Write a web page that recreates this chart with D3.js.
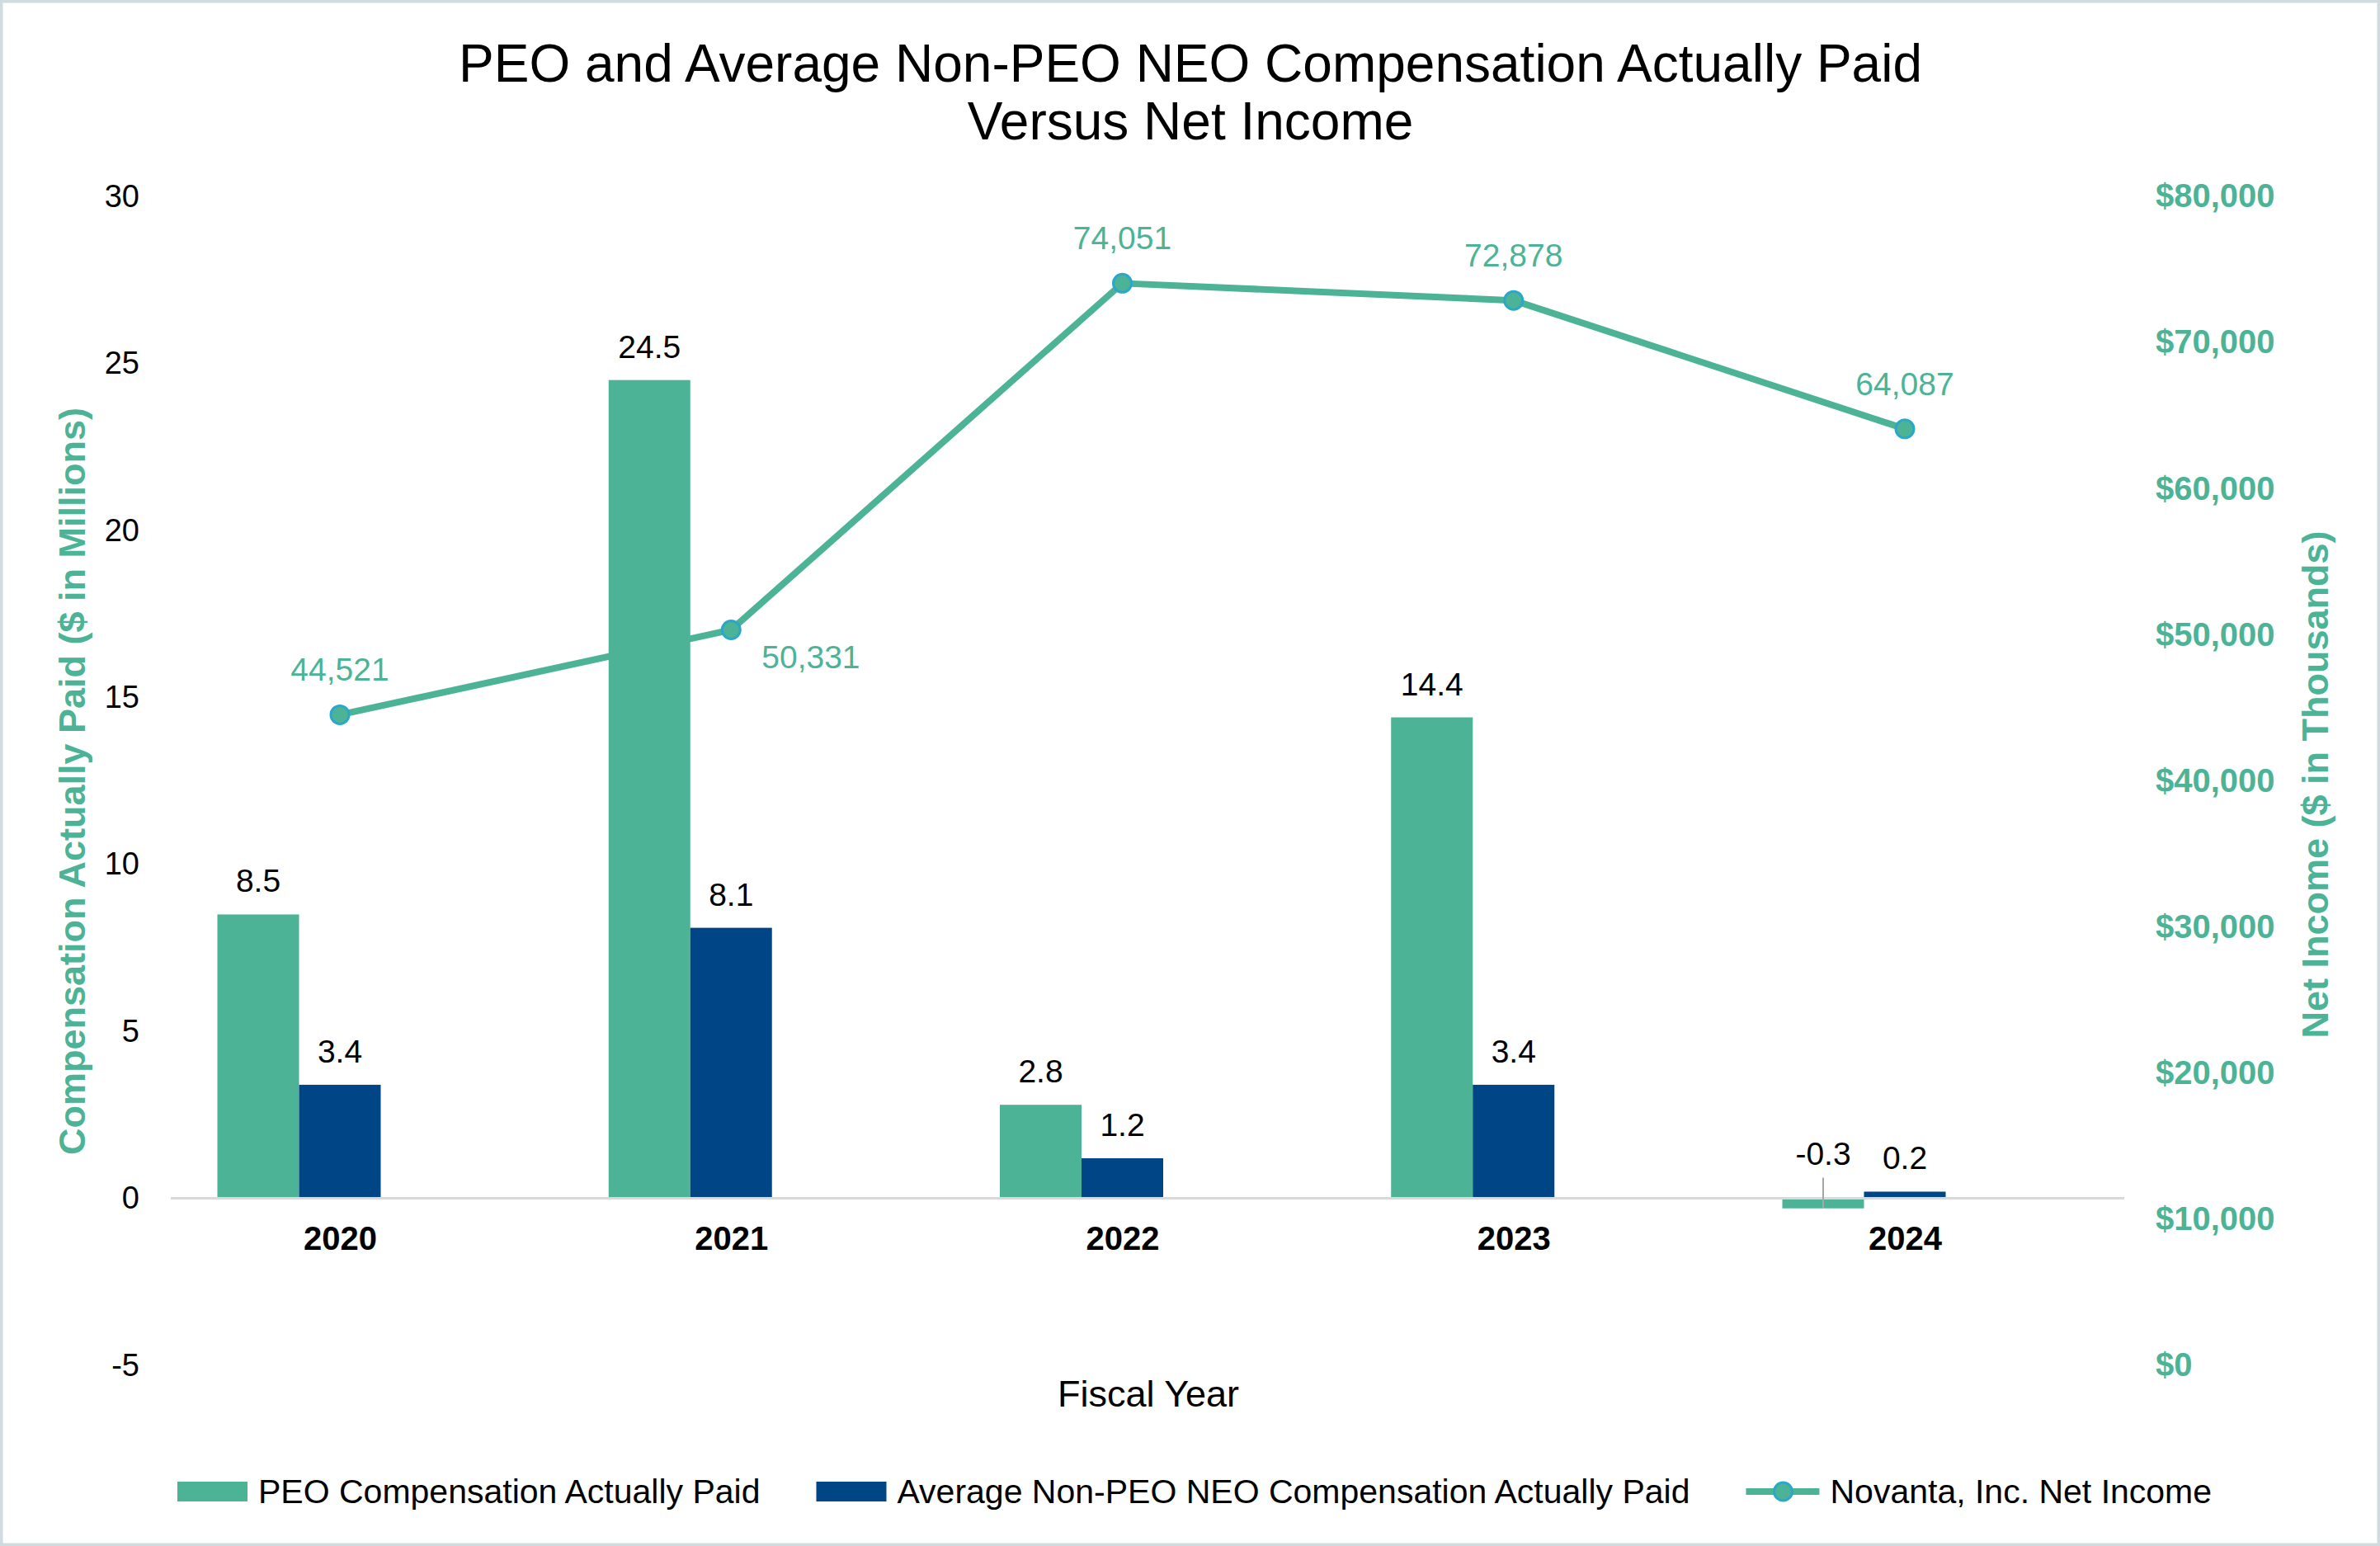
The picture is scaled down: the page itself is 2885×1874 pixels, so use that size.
<!DOCTYPE html>
<html>
<head>
<meta charset="utf-8">
<script src="https://cdn.jsdelivr.net/npm/d3@7"></script>
<style>
  body { margin: 0; background: #fff; }
  svg { display: block; font-family: "Liberation Sans", Arial, sans-serif; }
</style>
</head>
<body>
<script>
// chart values
var years = ["2020", "2021", "2022", "2023", "2024"];
var peoCap = [8.5, 24.5, 2.8, 14.4, -0.3];
var neoCap = [3.4, 8.1, 1.2, 3.4, 0.2];
var netIncome = [44521, 50331, 74051, 72878, 64087];
var leftTicks = [-5, 0, 5, 10, 15, 20, 25, 30];
var rightTicks = [0, 10000, 20000, 30000, 40000, 50000, 60000, 70000, 80000];

var width = 2885, height = 1874;
var green = "#4db396", navy = "#004586", markerEdge = "#2aa7c9";

// plain hyphen for negatives, like the original
var fmtLocale = d3.formatLocale({ decimal: ".", thousands: ",", grouping: [3], currency: ["$", ""], minus: "-" });
var fmt1 = fmtLocale.format(".1f");
var fmtInt = fmtLocale.format("d");
var fmtComma = fmtLocale.format(",");
var fmtMoney = fmtLocale.format("$,");

var svg = d3.select("body").append("svg")
    .attr("width", width)
    .attr("height", height);

svg.append("rect")
    .attr("x", 0).attr("y", 0)
    .attr("width", width).attr("height", height)
    .attr("fill", "#fff")
    .attr("stroke", "#cfdbdf")
    .attr("stroke-width", 7);

// title
var title = svg.append("text")
    .attr("text-anchor", "middle")
    .attr("font-size", 64)
    .attr("fill", "#000");
title.append("tspan").attr("x", 1443).attr("y", 99)
    .text("PEO and Average Non-PEO NEO Compensation Actually Paid");
title.append("tspan").attr("x", 1443).attr("y", 169)
    .text("Versus Net Income");

// scales
var x = d3.scalePoint().domain(years).range([412, 2309]);
var barW = 99;
var inner = d3.scaleBand().domain(["peo", "neo"]).range([-1.5 * barW, 0.5 * barW]);
var yL = d3.scaleLinear().domain([-5, 30]).range([1655, 238]);
var yR = d3.scaleLinear().domain([0, 80000]).range([1655, 238]);

// left axis
var gL = svg.append("g").attr("transform", "translate(169,0)")
    .call(d3.axisLeft(yL).tickValues(leftTicks).tickSize(0).tickPadding(0).tickFormat(fmtInt));
gL.select(".domain").remove();
gL.selectAll("text")
    .attr("font-size", 38)
    .attr("font-family", "Liberation Sans, Arial, sans-serif")
    .attr("fill", "#000");

// right axis
var gR = svg.append("g").attr("transform", "translate(2613,0)")
    .call(d3.axisRight(yR).tickValues(rightTicks).tickSize(0).tickPadding(0).tickFormat(fmtMoney));
gR.select(".domain").remove();
gR.selectAll("text")
    .attr("font-size", 40)
    .attr("font-weight", "bold")
    .attr("font-family", "Liberation Sans, Arial, sans-serif")
    .attr("fill", green);

// axis titles
svg.append("text")
    .attr("transform", "translate(103," + 947 + ") rotate(-90)")
    .attr("text-anchor", "middle")
    .attr("font-size", 45)
    .attr("font-weight", "bold")
    .attr("fill", green)
    .text("Compensation Actually Paid ($ in Millions)");

svg.append("text")
    .attr("transform", "translate(2822," + 951 + ") rotate(-90)")
    .attr("text-anchor", "middle")
    .attr("font-size", 45)
    .attr("font-weight", "bold")
    .attr("fill", green)
    .text("Net Income ($ in Thousands)");

svg.append("text")
    .attr("x", 1392).attr("y", 1705)
    .attr("text-anchor", "middle")
    .attr("font-size", 45)
    .attr("fill", "#000")
    .text("Fiscal Year");

// bars
var rows = years.map(function (y, i) {
    return { year: y, peo: peoCap[i], neo: neoCap[i], net: netIncome[i] };
});
var barData = [];
rows.forEach(function (r) {
    barData.push({ year: r.year, key: "peo", v: r.peo });
    barData.push({ year: r.year, key: "neo", v: r.neo });
});

svg.append("g").selectAll("rect")
    .data(barData)
    .join("rect")
    .attr("x", function (d) { return x(d.year) + inner(d.key); })
    .attr("width", inner.bandwidth())
    .attr("y", function (d) { return yL(Math.max(0, d.v)); })
    .attr("height", function (d) { return Math.abs(yL(d.v) - yL(0)); })
    .attr("fill", function (d) { return d.key == "peo" ? green : navy; });

// zero line
svg.append("line")
    .attr("x1", 207).attr("x2", 2575)
    .attr("y1", yL(0)).attr("y2", yL(0))
    .attr("stroke", "#d9d9d9")
    .attr("stroke-width", 3);

// bar labels
svg.append("g").selectAll("text")
    .data(barData)
    .join("text")
    .attr("x", function (d) { return x(d.year) + inner(d.key) + barW / 2; })
    .attr("y", function (d) { return d.v >= 0 ? yL(d.v) - 27 : yL(0) - 41; })
    .attr("text-anchor", "middle")
    .attr("font-size", 39)
    .attr("fill", "#000")
    .text(function (d) { return fmt1(d.v); });

// leader line for the negative label
svg.append("g").selectAll("line")
    .data(barData.filter(function (d) { return d.v < 0; }))
    .join("line")
    .attr("x1", function (d) { return x(d.year) + inner(d.key) + barW / 2; })
    .attr("x2", function (d) { return x(d.year) + inner(d.key) + barW / 2; })
    .attr("y1", yL(0) - 25)
    .attr("y2", function (d) { return yL(d.v); })
    .attr("stroke", "#a6a6a6")
    .attr("stroke-width", 2);

// category labels
var gX = svg.append("g").attr("transform", "translate(0,0)")
    .call(d3.axisBottom(x).tickSize(0));
gX.select(".domain").remove();
gX.selectAll("text")
    .attr("y", 1515).attr("dy", null)
    .attr("font-size", 40)
    .attr("font-weight", "bold")
    .attr("font-family", "Liberation Sans, Arial, sans-serif")
    .attr("fill", "#000");

// net income line
var line = d3.line()
    .x(function (d) { return x(d.year); })
    .y(function (d) { return yR(d.net); });

svg.append("path")
    .datum(rows)
    .attr("d", line)
    .attr("fill", "none")
    .attr("stroke", green)
    .attr("stroke-width", 8)
    .attr("stroke-linejoin", "round");

svg.append("g").selectAll("circle")
    .data(rows)
    .join("circle")
    .attr("cx", function (d) { return x(d.year); })
    .attr("cy", function (d) { return yR(d.net); })
    .attr("r", 11)
    .attr("fill", green)
    .attr("stroke", markerEdge)
    .attr("stroke-width", 3);

svg.append("g").selectAll("text")
    .data(rows)
    .join("text")
    .attr("x", function (d, i) { return i == 1 ? x(d.year) + 37 : x(d.year); })
    .attr("y", function (d, i) { return i == 1 ? yR(d.net) + 46 : yR(d.net) - 41; })
    .attr("text-anchor", function (d, i) { return i == 1 ? "start" : "middle"; })
    .attr("font-size", 39)
    .attr("fill", green)
    .text(function (d) { return fmtComma(d.net); });

// legend
var legendItems = [
    { label: "PEO Compensation Actually Paid", type: "bar", color: green },
    { label: "Average Non-PEO NEO Compensation Actually Paid", type: "bar", color: navy },
    { label: "Novanta, Inc. Net Income", type: "line", color: green }
];
var lx = 215, ly = 1808;
legendItems.forEach(function (item) {
    var g = svg.append("g");
    if (item.type == "bar") {
        g.append("rect")
            .attr("x", lx).attr("y", ly - 12)
            .attr("width", 85).attr("height", 24)
            .attr("fill", item.color);
    } else {
        g.append("line")
            .attr("x1", lx).attr("x2", lx + 89)
            .attr("y1", ly).attr("y2", ly)
            .attr("stroke", item.color)
            .attr("stroke-width", 8);
        g.append("circle")
            .attr("cx", lx + 45).attr("cy", ly)
            .attr("r", 11)
            .attr("fill", item.color)
            .attr("stroke", markerEdge)
            .attr("stroke-width", 3);
    }
    var sw = item.type == "bar" ? 85 : 89;
    var t = g.append("text")
        .attr("x", lx + sw + 13)
        .attr("y", ly + 14)
        .attr("font-size", 41)
        .attr("fill", "#000")
        .text(item.label);
    lx = lx + sw + 13 + t.node().getComputedTextLength() + 68;
});
</script>
</body>
</html>
